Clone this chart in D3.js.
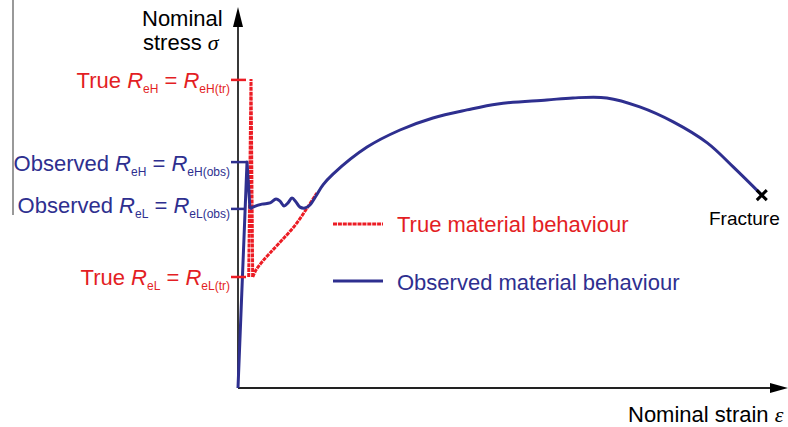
<!DOCTYPE html>
<html lang="en">
<head>
  <meta charset="UTF-8">
  <title>Yield point behaviour</title>
  <style>
    body { margin: 0; background: #fff; overflow: hidden; }
    svg { display: block; font-family: "Liberation Sans", Arial, sans-serif; }
    .axis-line { stroke: #222; stroke-width: 1.8px; }
    .true-line { fill: none; stroke: #ec1c24; stroke-width: 3px; stroke-dasharray: 4 0.9; }
    .obs-line { fill: none; stroke: #2e2f8f; stroke-width: 3px; stroke-linejoin: round; }
    .red-text { fill: #e31e24; }
    .blue-text { fill: #2e2f8f; }
  </style>
</head>
<body>
  <script src="https://d3js.org/d3.v7.min.js"></script>
  <script>
    // stress levels (same units as the y scale)
    const levels = [
      {key: "trueH", lead: "True ", sub1: "eH", sub2: "eH(tr)", value: 102.7, cls: "red", dyText: 8},
      {key: "obsH", lead: "Observed ", sub1: "eH", sub2: "eH(obs)", value: 75.3, cls: "blue", dyText: 9},
      {key: "obsL", lead: "Observed ", sub1: "eL", sub2: "eL(obs)", value: 59.7, cls: "blue", dyText: 4},
      {key: "trueL", lead: "True ", sub1: "eL", sub2: "eL(tr)", value: 37, cls: "red", dyText: 8}
    ];

    // true material behaviour: narrow spike to the upper yield point, then hardening
    const trueStrain = [1.98, 2.41, 2.72];
    const trueStress = [37, 103, 37];
    const trueHardStrain = [2.72, 3.33, 4.44, 5.93, 8.15, 10.6, 12.8, 14.6];
    const trueHardStress = [37, 39.3, 42, 45, 49.3, 54.3, 60, 65];

    // observed material behaviour
    const obsStrain = [0, 1.67, 2.22];
    const obsStress = [0, 75.3, 59.7];
    const obsPlasticStrain = [2.22, 2.78, 4.44, 5.93, 7.04, 7.78, 8.52, 9.26, 10.0, 10.74, 11.48, 12.41,
      13.33, 14.44, 15.74, 17.59, 23.9, 30, 36.1, 42.4, 48.1, 57.2, 62, 68.3, 74.4, 80.6, 86.9, 91.7, 97];
    const obsPlasticStress = [59.7, 60.3, 61.3, 61.7, 63, 62.3, 60.7, 61.7, 63.3, 62, 60.3, 60,
      61, 64, 67.7, 71.3, 80.3, 86, 90, 92.7, 94.7, 96, 96.7, 96.7, 93.7, 88.7, 81.7, 73.7, 64.3];

    const fracture = {strain: 97, stress: 64.3};

    const width = 788, height = 427;
    const svg = d3.select("body").append("svg").attr("width", width).attr("height", height);

    const x = d3.scaleLinear().domain([0, 100]).range([238, 778]);
    const y = d3.scaleLinear().domain([0, 100]).range([388, 88]);

    const pts = (xs, ys) => xs.map((v, i) => [v, ys[i]]);
    const lin = d3.line().x(d => x(d[0])).y(d => y(d[1]));
    const smooth = d3.line().x(d => x(d[0])).y(d => y(d[1])).curve(d3.curveCatmullRom.alpha(0.5));

    // stray frame edge on the left
    svg.append("line").attr("x1", 13).attr("x2", 13).attr("y1", 0).attr("y2", 215)
      .attr("stroke", "#777").attr("stroke-width", 1.5);

    // axes with arrow heads
    svg.append("line").attr("class", "axis-line")
      .attr("x1", x(0)).attr("y1", y(0)).attr("x2", x(0)).attr("y2", 24);
    svg.append("path").attr("d", `M${x(0)},7 L${x(0) + 5},27 L${x(0) - 5},27 Z`).attr("fill", "#000");
    svg.append("line").attr("class", "axis-line")
      .attr("x1", x(0)).attr("y1", y(0)).attr("x2", 772).attr("y2", y(0));
    svg.append("path").attr("d", `M788,${y(0)} L770,${y(0) - 5} L770,${y(0) + 5} Z`).attr("fill", "#000");

    // curves
    svg.append("path").attr("class", "true-line").attr("d", lin(pts(trueStrain, trueStress)));
    svg.append("path").attr("class", "true-line").attr("d", smooth(pts(trueHardStrain, trueHardStress)));
    svg.append("path").attr("class", "obs-line").attr("d", lin(pts(obsStrain, obsStress)));
    svg.append("path").attr("class", "obs-line").attr("d", smooth(pts(obsPlasticStrain, obsPlasticStress)));

    // level ticks
    svg.selectAll(".lvl-tick").data(levels).enter().append("line")
      .attr("x1", 231).attr("x2", 246)
      .attr("y1", d => y(d.value)).attr("y2", d => y(d.value))
      .attr("stroke", d => d.cls === "red" ? "#ec1c24" : "#2e2f8f").attr("stroke-width", 2.5);

    // level labels: "True R_eH = R_eH(tr)"
    const lbl = svg.selectAll(".lvl-label").data(levels).enter().append("text")
      .attr("class", d => d.cls + "-text")
      .attr("x", 230).attr("y", d => y(d.value) + d.dyText)
      .attr("text-anchor", "end").attr("font-size", 22);
    lbl.append("tspan").text(d => d.lead);
    lbl.append("tspan").attr("font-style", "italic").text("R");
    lbl.append("tspan").attr("font-size", 12).attr("dy", 5).text(d => d.sub1);
    lbl.append("tspan").attr("dy", -5).text(" = ");
    lbl.append("tspan").attr("font-style", "italic").text("R");
    lbl.append("tspan").attr("font-size", 12).attr("dy", 5).text(d => d.sub2);

    // axis titles
    svg.append("text").attr("x", 142).attr("y", 26).attr("font-size", 22).text("Nominal");
    const ys = svg.append("text").attr("x", 143).attr("y", 50).attr("font-size", 22);
    ys.append("tspan").text("stress ");
    ys.append("tspan").attr("font-family", "'Liberation Serif', serif").attr("font-style", "italic").text("σ");
    const xs = svg.append("text").attr("x", 628).attr("y", 422).attr("font-size", 22);
    xs.append("tspan").text("Nominal strain ");
    xs.append("tspan").attr("font-family", "'Liberation Serif', serif").attr("font-style", "italic").text("ε");

    // legend
    svg.append("line").attr("class", "true-line").attr("x1", 333).attr("x2", 383).attr("y1", 224).attr("y2", 224);
    svg.append("text").attr("class", "red-text").attr("x", 397).attr("y", 232).attr("font-size", 22)
      .text("True material behaviour");
    svg.append("line").attr("class", "obs-line").attr("x1", 333).attr("x2", 383).attr("y1", 281).attr("y2", 281);
    svg.append("text").attr("class", "blue-text").attr("x", 397).attr("y", 290).attr("font-size", 22)
      .text("Observed material behaviour");

    // fracture mark
    const fx = x(fracture.strain), fy = y(fracture.stress);
    svg.append("path").attr("d", `M${fx - 5},${fy - 5}L${fx + 5},${fy + 5}M${fx - 5},${fy + 5}L${fx + 5},${fy - 5}`)
      .attr("stroke", "#000").attr("stroke-width", 3);
    svg.append("text").attr("x", 709).attr("y", 225).attr("font-size", 19).text("Fracture");
  </script>
</body>
</html>
